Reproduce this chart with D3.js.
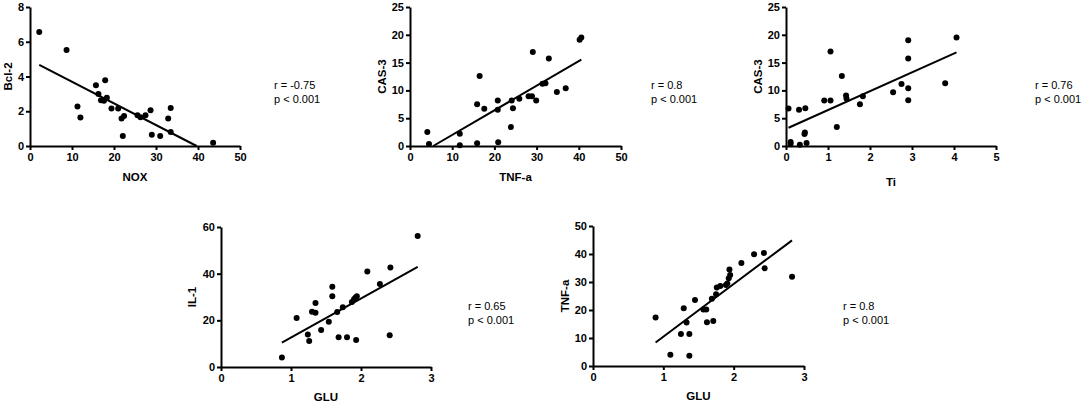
<!DOCTYPE html>
<html>
<head>
<meta charset="utf-8">
<script src="https://cdn.jsdelivr.net/npm/d3@7"></script>
<style>
  body { margin: 0; background: #fff; }
  svg { display: block; font-family: "Liberation Sans", Arial, sans-serif; }
</style>
</head>
<body>
<div id="chart"></div>
<script>
// panel A: NOX vs Bcl-2
const noxValues  = [2.2, 8.7, 11.3, 12.0, 15.7, 16.3, 16.9, 17.6, 18.3, 17.9, 19.4, 21.0, 21.8, 22.4, 22.1, 25.6, 26.3, 27.5, 28.7, 29.0, 31.0, 32.9, 33.5, 33.5, 43.6];
const bcl2Values = [6.56, 5.53, 2.27, 1.64, 3.49, 3.0, 2.63, 2.61, 2.77, 3.78, 2.16, 2.16, 1.58, 1.72, 0.57, 1.77, 1.66, 1.77, 2.06, 0.65, 0.57, 1.58, 2.19, 0.80, 0.19];

// panel B: TNF-a vs CAS-3
const tnfValues   = [4.1, 4.5, 11.8, 11.8, 15.9, 15.9, 16.5, 17.6, 20.8, 20.8, 20.9, 23.9, 24.1, 24.4, 25.9, 28.1, 28.9, 29.1, 29.9, 31.4, 32.1, 32.9, 34.8, 36.9, 40.2, 40.6];
const cas3ByTnf   = [2.5, 0.36, 2.2, 0.12, 0.48, 7.5, 12.6, 6.7, 8.2, 6.5, 0.66, 3.4, 8.2, 6.8, 8.5, 8.95, 8.95, 16.9, 8.2, 11.2, 11.3, 15.75, 9.7, 10.4, 19.1, 19.5];

// panel C: Ti vs CAS-3
const tiValues    = [0.06, 0.11, 0.11, 0.31, 0.33, 0.46, 0.44, 0.45, 0.49, 0.91, 1.06, 1.06, 1.21, 1.33, 1.43, 1.44, 1.76, 1.83, 2.55, 2.75, 2.91, 2.91, 2.91, 2.91, 3.79, 4.06];
const cas3ByTi    = [6.74, 0.72, 0.42, 6.5, 0.24, 6.8, 2.15, 2.45, 0.54, 8.17, 8.17, 17.0, 3.4, 12.6, 9.07, 8.53, 7.52, 8.95, 9.67, 11.16, 19.03, 15.75, 10.38, 8.23, 11.28, 19.5];

// panel D: GLU vs IL-1
const gluForIl1   = [0.87, 1.08, 1.24, 1.26, 1.30, 1.35, 1.35, 1.43, 1.54, 1.59, 1.59, 1.66, 1.68, 1.74, 1.80, 1.87, 1.90, 1.92, 1.94, 1.93, 2.09, 2.27, 2.42, 2.41, 2.81];
const il1Values   = [4.1, 21, 13.9, 11.1, 23.7, 27.4, 23.3, 15.9, 19.4, 34.4, 30.3, 23.6, 12.7, 25.6, 12.7, 27.9, 29, 29.7, 30.3, 11.6, 40.9, 35.6, 42.6, 13.6, 56.1];

// panel E: GLU vs TNF-a
const gluForTnf   = [0.89, 1.10, 1.29, 1.25, 1.33, 1.37, 1.37, 1.45, 1.57, 1.61, 1.62, 1.71, 1.69, 1.75, 1.76, 1.81, 1.89, 1.91, 1.93, 1.95, 1.94, 2.11, 2.29, 2.43, 2.44, 2.83];
const tnfByGlu    = [17.3, 4.05, 20.6, 11.4, 15.5, 11.4, 3.7, 23.6, 20.2, 20.2, 15.6, 16.1, 24.0, 25.6, 28.0, 28.6, 28.9, 29.5, 31.3, 32.5, 34.5, 36.8, 39.9, 40.4, 34.9, 31.9];

// regression fits [slope, intercept] and stats
const fitA = [-0.1245, 4.94];
const fitB = [0.442, -2.43];
const fitC = [3.39, 3.08];
const fitD = [16.7, -4.06];
const fitE = [18.8, -8.34];
const statsA = ["r = -0.75", "p < 0.001"];
const statsB = ["r = 0.8", "p < 0.001"];
const statsC = ["r = 0.76", "p < 0.001"];
const statsD = ["r = 0.65", "p < 0.001"];
const statsE = ["r = 0.8", "p < 0.001"];

const panels = [
  {xs: noxValues, ys: bcl2Values, fit: fitA, stats: statsA, xLabel: "NOX", yLabel: "Bcl-2",
   xTicks: [0, 10, 20, 30, 40, 50], yTicks: [0, 2, 4, 6, 8],
   left: 30, top: 7, w: 210, h: 139, yTitleOff: 22, xTitleOff: 31, statX: 274, statY: 89},
  {xs: tnfValues, ys: cas3ByTnf, fit: fitB, stats: statsB, xLabel: "TNF-a", yLabel: "CAS-3",
   xTicks: [0, 10, 20, 30, 40, 50], yTicks: [0, 5, 10, 15, 20, 25],
   left: 410, top: 7, w: 211, h: 139, yTitleOff: 28, xTitleOff: 31, statX: 651, statY: 89},
  {xs: tiValues, ys: cas3ByTi, fit: fitC, stats: statsC, xLabel: "Ti", yLabel: "CAS-3",
   xTicks: [0, 1, 2, 3, 4, 5], yTicks: [0, 5, 10, 15, 20, 25],
   left: 786, top: 7, w: 210, h: 139, yTitleOff: 28, xTitleOff: 36, statX: 1035, statY: 89},
  {xs: gluForIl1, ys: il1Values, fit: fitD, stats: statsD, xLabel: "GLU", yLabel: "IL-1",
   xTicks: [0, 1, 2, 3], yTicks: [0, 20, 40, 60],
   left: 221, top: 227, w: 210, h: 140, yTitleOff: 29, xTitleOff: 30, statX: 468, statY: 310},
  {xs: gluForTnf, ys: tnfByGlu, fit: fitE, stats: statsE, xLabel: "GLU", yLabel: "TNF-a",
   xTicks: [0, 1, 2, 3], yTicks: [0, 10, 20, 30, 40, 50],
   left: 593, top: 226, w: 211, h: 140, yTitleOff: 28, xTitleOff: 30, statX: 843, statY: 310}
];

const svg = d3.select("#chart")
  .append("svg")
  .attr("width", 1084)
  .attr("height", 403);

function drawPanel(p) {
  const g = svg.append("g").attr("transform", `translate(${p.left},${p.top})`);

  const x = d3.scaleLinear().domain(d3.extent(p.xTicks)).range([0, p.w]);
  const y = d3.scaleLinear().domain(d3.extent(p.yTicks)).range([p.h, 0]);

  const xAxis = g.append("g")
    .attr("transform", `translate(0,${p.h})`)
    .call(d3.axisBottom(x).tickValues(p.xTicks).tickFormat(d3.format("~g"))
      .tickSize(4).tickSizeOuter(0).tickPadding(3));
  const yAxis = g.append("g")
    .call(d3.axisLeft(y).tickValues(p.yTicks).tickFormat(d3.format("~g"))
      .tickSize(4).tickSizeOuter(0).tickPadding(2));

  [xAxis, yAxis].forEach(a => {
    a.selectAll("path, line").attr("stroke", "#000").attr("stroke-width", 2);
    a.selectAll("text")
      .attr("fill", "#000")
      .style("font-family", "'Liberation Sans', Arial, sans-serif")
      .style("font-size", "11px")
      .style("font-weight", "bold");
  });

  // fit line, from min x to max x, clipped to the visible y range
  const [m, b] = p.fit;
  const y0 = y.domain()[0];
  let x1 = d3.min(p.xs), x2 = d3.max(p.xs);
  if (m * x1 + b < y0) x1 = (y0 - b) / m;
  if (m * x2 + b < y0) x2 = (y0 - b) / m;
  g.append("line")
    .attr("x1", x(x1)).attr("y1", y(m * x1 + b))
    .attr("x2", x(x2)).attr("y2", y(m * x2 + b))
    .attr("stroke", "#000")
    .attr("stroke-width", 2);

  g.selectAll(".dot")
    .data(p.xs.map((v, i) => [v, p.ys[i]]))
    .join("circle")
    .attr("class", "dot")
    .attr("cx", d => x(d[0]))
    .attr("cy", d => y(d[1]))
    .attr("r", 3)
    .attr("fill", "#000");

  // axis titles
  g.append("text")
    .attr("x", p.w / 2)
    .attr("y", p.h + p.xTitleOff)
    .attr("dy", "0.35em")
    .style("text-anchor", "middle")
    .style("font-size", "11.5px")
    .style("font-weight", "bold")
    .text(p.xLabel);

  g.append("text")
    .attr("transform", `translate(${-p.yTitleOff},${p.h / 2}) rotate(-90)`)
    .attr("dy", "0.35em")
    .style("text-anchor", "middle")
    .style("font-size", "11.5px")
    .style("font-weight", "bold")
    .text(p.yLabel);

  // correlation stats
  p.stats.forEach((s, i) => {
    svg.append("text")
      .attr("x", p.statX)
      .attr("y", p.statY + i * 14)
      .style("font-size", "11px")
      .style("fill", "#000")
      .text(s);
  });
}

panels.forEach(drawPanel);
</script>
</body>
</html>
